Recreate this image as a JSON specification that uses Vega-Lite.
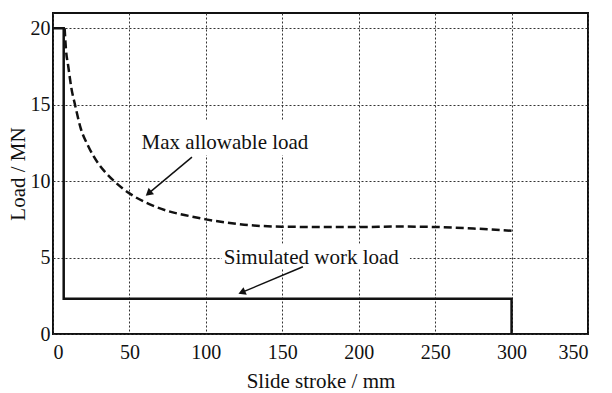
{
  "$schema": "https://vega.github.io/schema/vega-lite/v6.json",
  "autosize": "none",
  "width": 535,
  "height": 321,
  "padding": {"left": 53, "top": 13, "right": 24, "bottom": 59},
  "background": "white",
  "config": {
    "view": {"stroke": "#111", "strokeWidth": 2},
    "font": "Liberation Serif, Times New Roman, serif",
    "axis": {
      "labelFont": "Liberation Serif, Times New Roman, serif",
      "titleFont": "Liberation Serif, Times New Roman, serif",
      "labelFontSize": 20,
      "titleFontSize": 21,
      "titleFontWeight": "normal",
      "labelColor": "#111",
      "titleColor": "#111",
      "ticks": false,
      "domain": false,
      "grid": true,
      "gridColor": "#333",
      "gridDash": [2, 2],
      "gridWidth": 1
    }
  },
  "datasets": {
    "sim": [
      {"stroke": 0, "load": 20, "i": 0},
      {"stroke": 7, "load": 20, "i": 1},
      {"stroke": 7, "load": 2.3, "i": 2},
      {"stroke": 300, "load": 2.3, "i": 3},
      {"stroke": 300, "load": 0, "i": 4}
    ],
    "maxload": [
      {"stroke": 7.6, "load": 20},
      {"stroke": 8.5, "load": 18.6},
      {"stroke": 10, "load": 17.5},
      {"stroke": 12, "load": 16.1},
      {"stroke": 14.4, "load": 15},
      {"stroke": 18, "load": 13.5},
      {"stroke": 23, "load": 12.3},
      {"stroke": 30, "load": 11.1},
      {"stroke": 35, "load": 10.5},
      {"stroke": 40, "load": 10.0},
      {"stroke": 50, "load": 9.2},
      {"stroke": 63, "load": 8.5},
      {"stroke": 75, "load": 8.05},
      {"stroke": 90, "load": 7.7},
      {"stroke": 100, "load": 7.5},
      {"stroke": 125, "load": 7.15},
      {"stroke": 150, "load": 7.02},
      {"stroke": 175, "load": 7.0},
      {"stroke": 200, "load": 7.0},
      {"stroke": 225, "load": 7.03},
      {"stroke": 250, "load": 7.0},
      {"stroke": 275, "load": 6.9},
      {"stroke": 300, "load": 6.75}
    ],
    "labels": [
      {"x": 112.5, "y": 12.5, "x0": 56, "x1": 169, "y0": 11.7, "y1": 14.0, "text": "Max allowable load"},
      {"x": 169, "y": 5.0, "x0": 110.5, "x1": 233.5, "y0": 4.3, "y1": 5.9, "text": "Simulated work load"}
    ],
    "arrows": [
      {"x": 90.9, "y": 11.57, "x2": 62.5, "y2": 9.2},
      {"x": 163.5, "y": 4.4, "x2": 123.5, "y2": 2.72}
    ]
  },
  "layer": [
    {
      "data": {"name": "labels"},
      "mark": {"type": "rect", "fill": "white", "stroke": null},
      "encoding": {
        "x": {"field": "x0", "type": "quantitative", "scale": {"domain": [0, 350], "nice": false}, "axis": {"values": [0, 50, 100, 150, 200, 250, 300, 350], "title": "Slide stroke / mm", "labelPadding": 8, "titlePadding": 8}},
        "x2": {"field": "x1"},
        "y": {"field": "y0", "type": "quantitative", "scale": {"domain": [0, 21], "nice": false}, "axis": {"values": [0, 5, 10, 15, 20], "title": "Load / MN", "labelPadding": 3, "titlePadding": 2}},
        "y2": {"field": "y1"}
      }
    },
    {
      "data": {"name": "labels"},
      "mark": {"type": "text", "fontSize": 21, "font": "Liberation Serif, Times New Roman, serif", "color": "#111", "baseline": "middle", "align": "center"},
      "encoding": {
        "x": {"field": "x", "type": "quantitative"},
        "y": {"field": "y", "type": "quantitative"},
        "text": {"field": "text"}
      }
    },
    {
      "data": {"name": "sim"},
      "mark": {"type": "line", "color": "#111", "strokeWidth": 2.5, "strokeJoin": "miter"},
      "encoding": {
        "x": {"field": "stroke", "type": "quantitative"},
        "y": {"field": "load", "type": "quantitative"},
        "order": {"field": "i"}
      }
    },
    {
      "data": {"name": "maxload"},
      "mark": {"type": "line", "color": "#111", "strokeWidth": 2.5, "strokeDash": [8, 4], "interpolate": "monotone"},
      "encoding": {
        "x": {"field": "stroke", "type": "quantitative"},
        "y": {"field": "load", "type": "quantitative"}
      }
    },
    {
      "data": {"name": "arrows"},
      "mark": {"type": "rule", "color": "#111", "strokeWidth": 1.5},
      "encoding": {
        "x": {"field": "x", "type": "quantitative"},
        "y": {"field": "y", "type": "quantitative"},
        "x2": {"field": "x2"},
        "y2": {"field": "y2"}
      }
    },
    {
      "data": {"name": "arrows"},
      "transform": [{"filter": "datum.x < 100"}],
      "mark": {"type": "point", "shape": "triangle-up", "filled": true, "color": "#111", "size": 70, "angle": 230, "opacity": 1},
      "encoding": {
        "x": {"field": "x2", "type": "quantitative"},
        "y": {"field": "y2", "type": "quantitative"}
      }
    },
    {
      "data": {"name": "arrows"},
      "transform": [{"filter": "datum.x > 100"}],
      "mark": {"type": "point", "shape": "triangle-up", "filled": true, "color": "#111", "size": 70, "angle": 247, "opacity": 1},
      "encoding": {
        "x": {"field": "x2", "type": "quantitative"},
        "y": {"field": "y2", "type": "quantitative"}
      }
    }
  ]
}
